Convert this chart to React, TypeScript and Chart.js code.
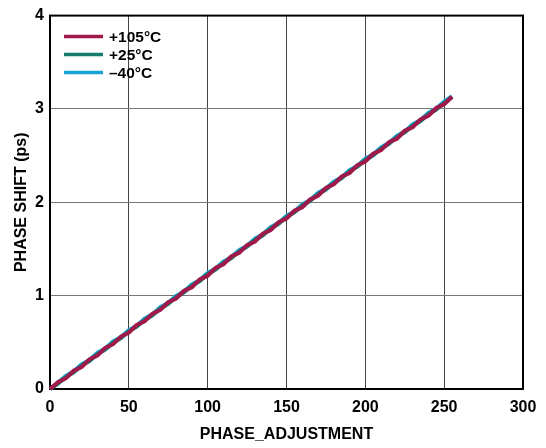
import React, { useEffect, useRef } from "react";
import { Chart, registerables } from "chart.js";

Chart.register(...registerables);

const PHASE_ADJ = [0, 5, 10, 15, 20, 25, 30, 35, 40, 45, 50, 55, 60, 65, 70, 75, 80, 85, 90, 95, 100, 105, 110, 115, 120, 125, 130, 135, 140, 145, 150, 155, 160, 165, 170, 175, 180, 185, 190, 195, 200, 205, 210, 215, 220, 225, 230, 235, 240, 245, 250, 255];

const SHIFT_105C = [0.000, 0.073, 0.114, 0.196, 0.236, 0.318, 0.358, 0.441, 0.480, 0.562, 0.603, 0.686, 0.724, 0.807, 0.847, 0.930, 0.969, 1.052, 1.090, 1.174, 1.213, 1.297, 1.336, 1.419, 1.458, 1.542, 1.580, 1.664, 1.703, 1.786, 1.825, 1.909, 1.947, 2.031, 2.070, 2.154, 2.192, 2.276, 2.314, 2.398, 2.437, 2.521, 2.559, 2.643, 2.681, 2.766, 2.804, 2.888, 2.926, 3.010, 3.049, 3.130];

const SHIFT_25C = [0.000, 0.056, 0.128, 0.178, 0.251, 0.300, 0.373, 0.422, 0.496, 0.545, 0.618, 0.667, 0.740, 0.790, 0.863, 0.912, 0.985, 1.034, 1.108, 1.157, 1.230, 1.279, 1.352, 1.402, 1.475, 1.524, 1.597, 1.646, 1.720, 1.769, 1.842, 1.891, 1.964, 2.014, 2.087, 2.136, 2.209, 2.258, 2.332, 2.381, 2.454, 2.503, 2.576, 2.626, 2.699, 2.748, 2.821, 2.870, 2.944, 2.993, 3.066, 3.127];

const SHIFT_M40C = [0.000, 0.066, 0.141, 0.189, 0.264, 0.311, 0.386, 0.433, 0.509, 0.556, 0.631, 0.678, 0.753, 0.801, 0.876, 0.923, 0.998, 1.045, 1.121, 1.168, 1.243, 1.290, 1.365, 1.413, 1.488, 1.535, 1.610, 1.657, 1.733, 1.780, 1.855, 1.902, 1.977, 2.025, 2.100, 2.147, 2.222, 2.269, 2.345, 2.392, 2.467, 2.514, 2.589, 2.637, 2.712, 2.759, 2.834, 2.881, 2.957, 3.004, 3.079, 3.136];

const SERIES_LABELS = ["+105°C", "+25°C", "\u201340°C"];
const SERIES_COLORS = ["#A1184B", "#177C6F", "#1BA2D8"];

const X_TITLE = "PHASE_ADJUSTMENT";
const Y_TITLE = "PHASE SHIFT (ps)";

const FONT = "'Liberation Sans', Arial, Helvetica, sans-serif";

const boxPlugin = {
  id: "boxPlugin",
  beforeDatasetsDraw(chart: any) {
    const { ctx, chartArea } = chart;
    ctx.save();
    ctx.strokeStyle = "#000";
    ctx.lineWidth = 2;
    ctx.strokeRect(chartArea.left, chartArea.top, chartArea.right - chartArea.left, chartArea.bottom - chartArea.top);
    ctx.restore();
  },
  afterDraw(chart: any) {
    const { ctx, chartArea } = chart;
    ctx.save();
    ctx.font = `bold 15.5px ${FONT}`;
    ctx.textBaseline = "middle";
    ctx.textAlign = "left";
    chart.data.datasets.forEach((ds: any, i: number) => {
      const y = chartArea.top + 21 + i * 18;
      const x0 = chartArea.left + 14;
      ctx.strokeStyle = ds.borderColor;
      ctx.lineWidth = 3.5;
      ctx.beginPath();
      ctx.moveTo(x0, y);
      ctx.lineTo(x0 + 39, y);
      ctx.stroke();
      ctx.fillStyle = "#000";
      ctx.fillText(ds.label, x0 + 45, y + 1);
    });
    ctx.restore();
  },
};

export default function App() {
  const ref = useRef<HTMLCanvasElement | null>(null);

  useEffect(() => {
    if (!ref.current) return;
    const seriesValues = [SHIFT_105C, SHIFT_25C, SHIFT_M40C];
    const chart = new Chart(ref.current, {
      type: "line",
      data: {
        datasets: seriesValues.map((vals, i) => ({
          label: SERIES_LABELS[i],
          data: vals.map((v, j) => ({ x: PHASE_ADJ[j], y: v })),
          borderColor: SERIES_COLORS[i],
          backgroundColor: SERIES_COLORS[i],
          borderWidth: 4,
          pointRadius: 0,
          tension: 0,
          fill: false,
          clip: false as any,
        })),
      },
      options: {
        animation: false,
        responsive: false,
        maintainAspectRatio: false,
        layout: { padding: { top: 11, right: 23, left: 0, bottom: 0 } },
        plugins: {
          legend: { display: false },
          tooltip: { enabled: false },
        },
        scales: {
          x: {
            type: "linear",
            min: 0,
            max: 300,
            ticks: {
              stepSize: 50,
              color: "#000",
              font: { family: FONT, size: 16, weight: "bold" },
              padding: 9,
              maxRotation: 0,
            },
            grid: { color: "#444", lineWidth: 1, drawTicks: false },
            border: { display: false },
            title: {
              display: true,
              text: X_TITLE,
              color: "#000",
              font: { family: FONT, size: 16, weight: "bold" },
              padding: { top: 0, bottom: 4 },
            },
            afterFit(scale: any) {
              scale.height = 59;
            },
          },
          y: {
            type: "linear",
            min: 0,
            max: 4,
            ticks: {
              stepSize: 1,
              color: "#000",
              font: { family: FONT, size: 16, weight: "bold" },
              padding: 6,
            },
            grid: { color: "#777", lineWidth: 1, drawTicks: false },
            border: { display: false },
            title: {
              display: true,
              text: Y_TITLE,
              color: "#000",
              font: { family: FONT, size: 16, weight: "bold" },
              padding: { top: 12, bottom: 0 },
            },
            afterFit(scale: any) {
              scale.width = 50;
            },
          },
        },
      },
      plugins: [boxPlugin],
    });
    return () => chart.destroy();
  }, []);

  return (
    <div style={{ position: "absolute", left: 0, top: 0, width: 546, height: 448, background: "#fff" }}>
      <canvas ref={ref} width={546} height={448} />
    </div>
  );
}
